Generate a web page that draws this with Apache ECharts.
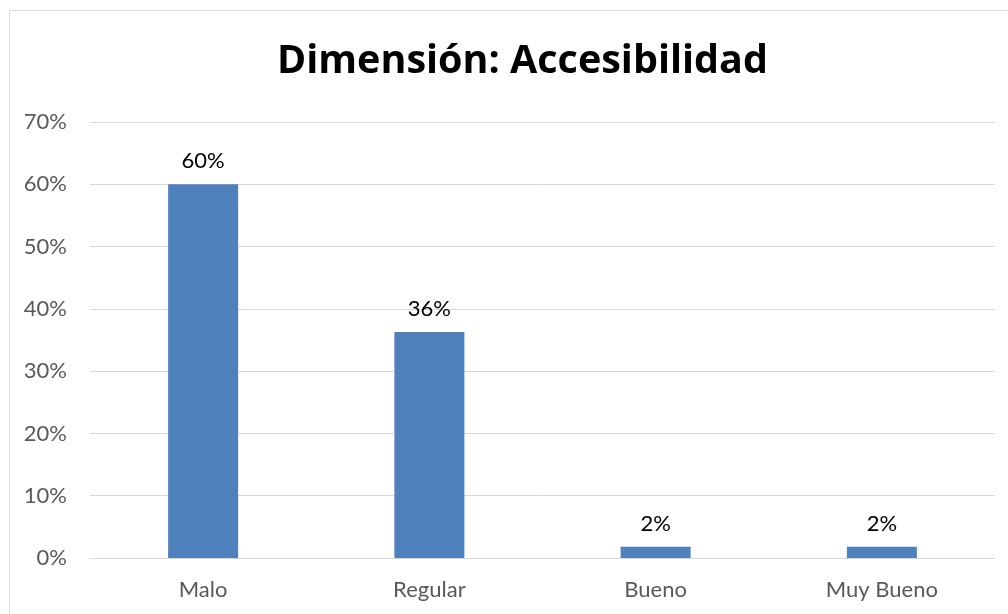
<!DOCTYPE html>
<html><head><meta charset="utf-8">
<script src="https://cdn.jsdelivr.net/npm/echarts@6/dist/echarts.min.js"></script>
<style>html,body{margin:0;padding:0;background:#fff}#c{width:1008px;height:614px}</style>
</head><body><div id="c"></div>
<script>
const categories = ['Malo', 'Regular', 'Bueno', 'Muy Bueno'];
const values = [0.60, 0.363, 0.018, 0.018];
const titleText = 'Dimensión: Accesibilidad';
const FONT = 'Lato, "Open Sans", sans-serif';
const chart = echarts.init(document.getElementById('c'), null, {renderer: 'canvas'});
chart.setOption({
  animation: false,
  backgroundColor: '#fff',
  graphic: [{type: 'rect', shape: {x: 9.5, y: 10.5, width: 1010, height: 620}, style: {fill: 'none', stroke: '#d9d9d9', lineWidth: 1}, silent: true, z: -1}],
  title: {text: titleText, left: 272, top: 37, textStyle: {fontFamily: 'Open Sans, sans-serif', fontWeight: 'bold', fontSize: 39.5, color: '#000'}},
  grid: {left: 90, right: 13, top: 122, bottom: 56, containLabel: false},
  xAxis: {type: 'category', data: categories, axisLine: {lineStyle: {color: '#d9d9d9', width: 1}}, axisTick: {show: false},
    axisLabel: {color: '#595959', fontSize: 22, fontFamily: FONT, margin: 21}},
  yAxis: {type: 'value', min: 0, max: 0.7, interval: 0.1,
    axisLine: {show: false}, axisTick: {show: false},
    splitLine: {lineStyle: {color: '#d9d9d9', width: 1}},
    axisLabel: {color: '#595959', fontSize: 22, fontFamily: FONT, margin: 23, formatter: v => Math.round(v * 100) + '%'}},
  series: [{type: 'bar', data: values, barWidth: 70, itemStyle: {color: '#4F81BD'},
    label: {show: true, position: 'top', distance: 12, color: '#000', fontSize: 22, fontFamily: FONT,
      formatter: p => Math.round(p.value * 100) + '%'}}]
});
</script></body></html>
